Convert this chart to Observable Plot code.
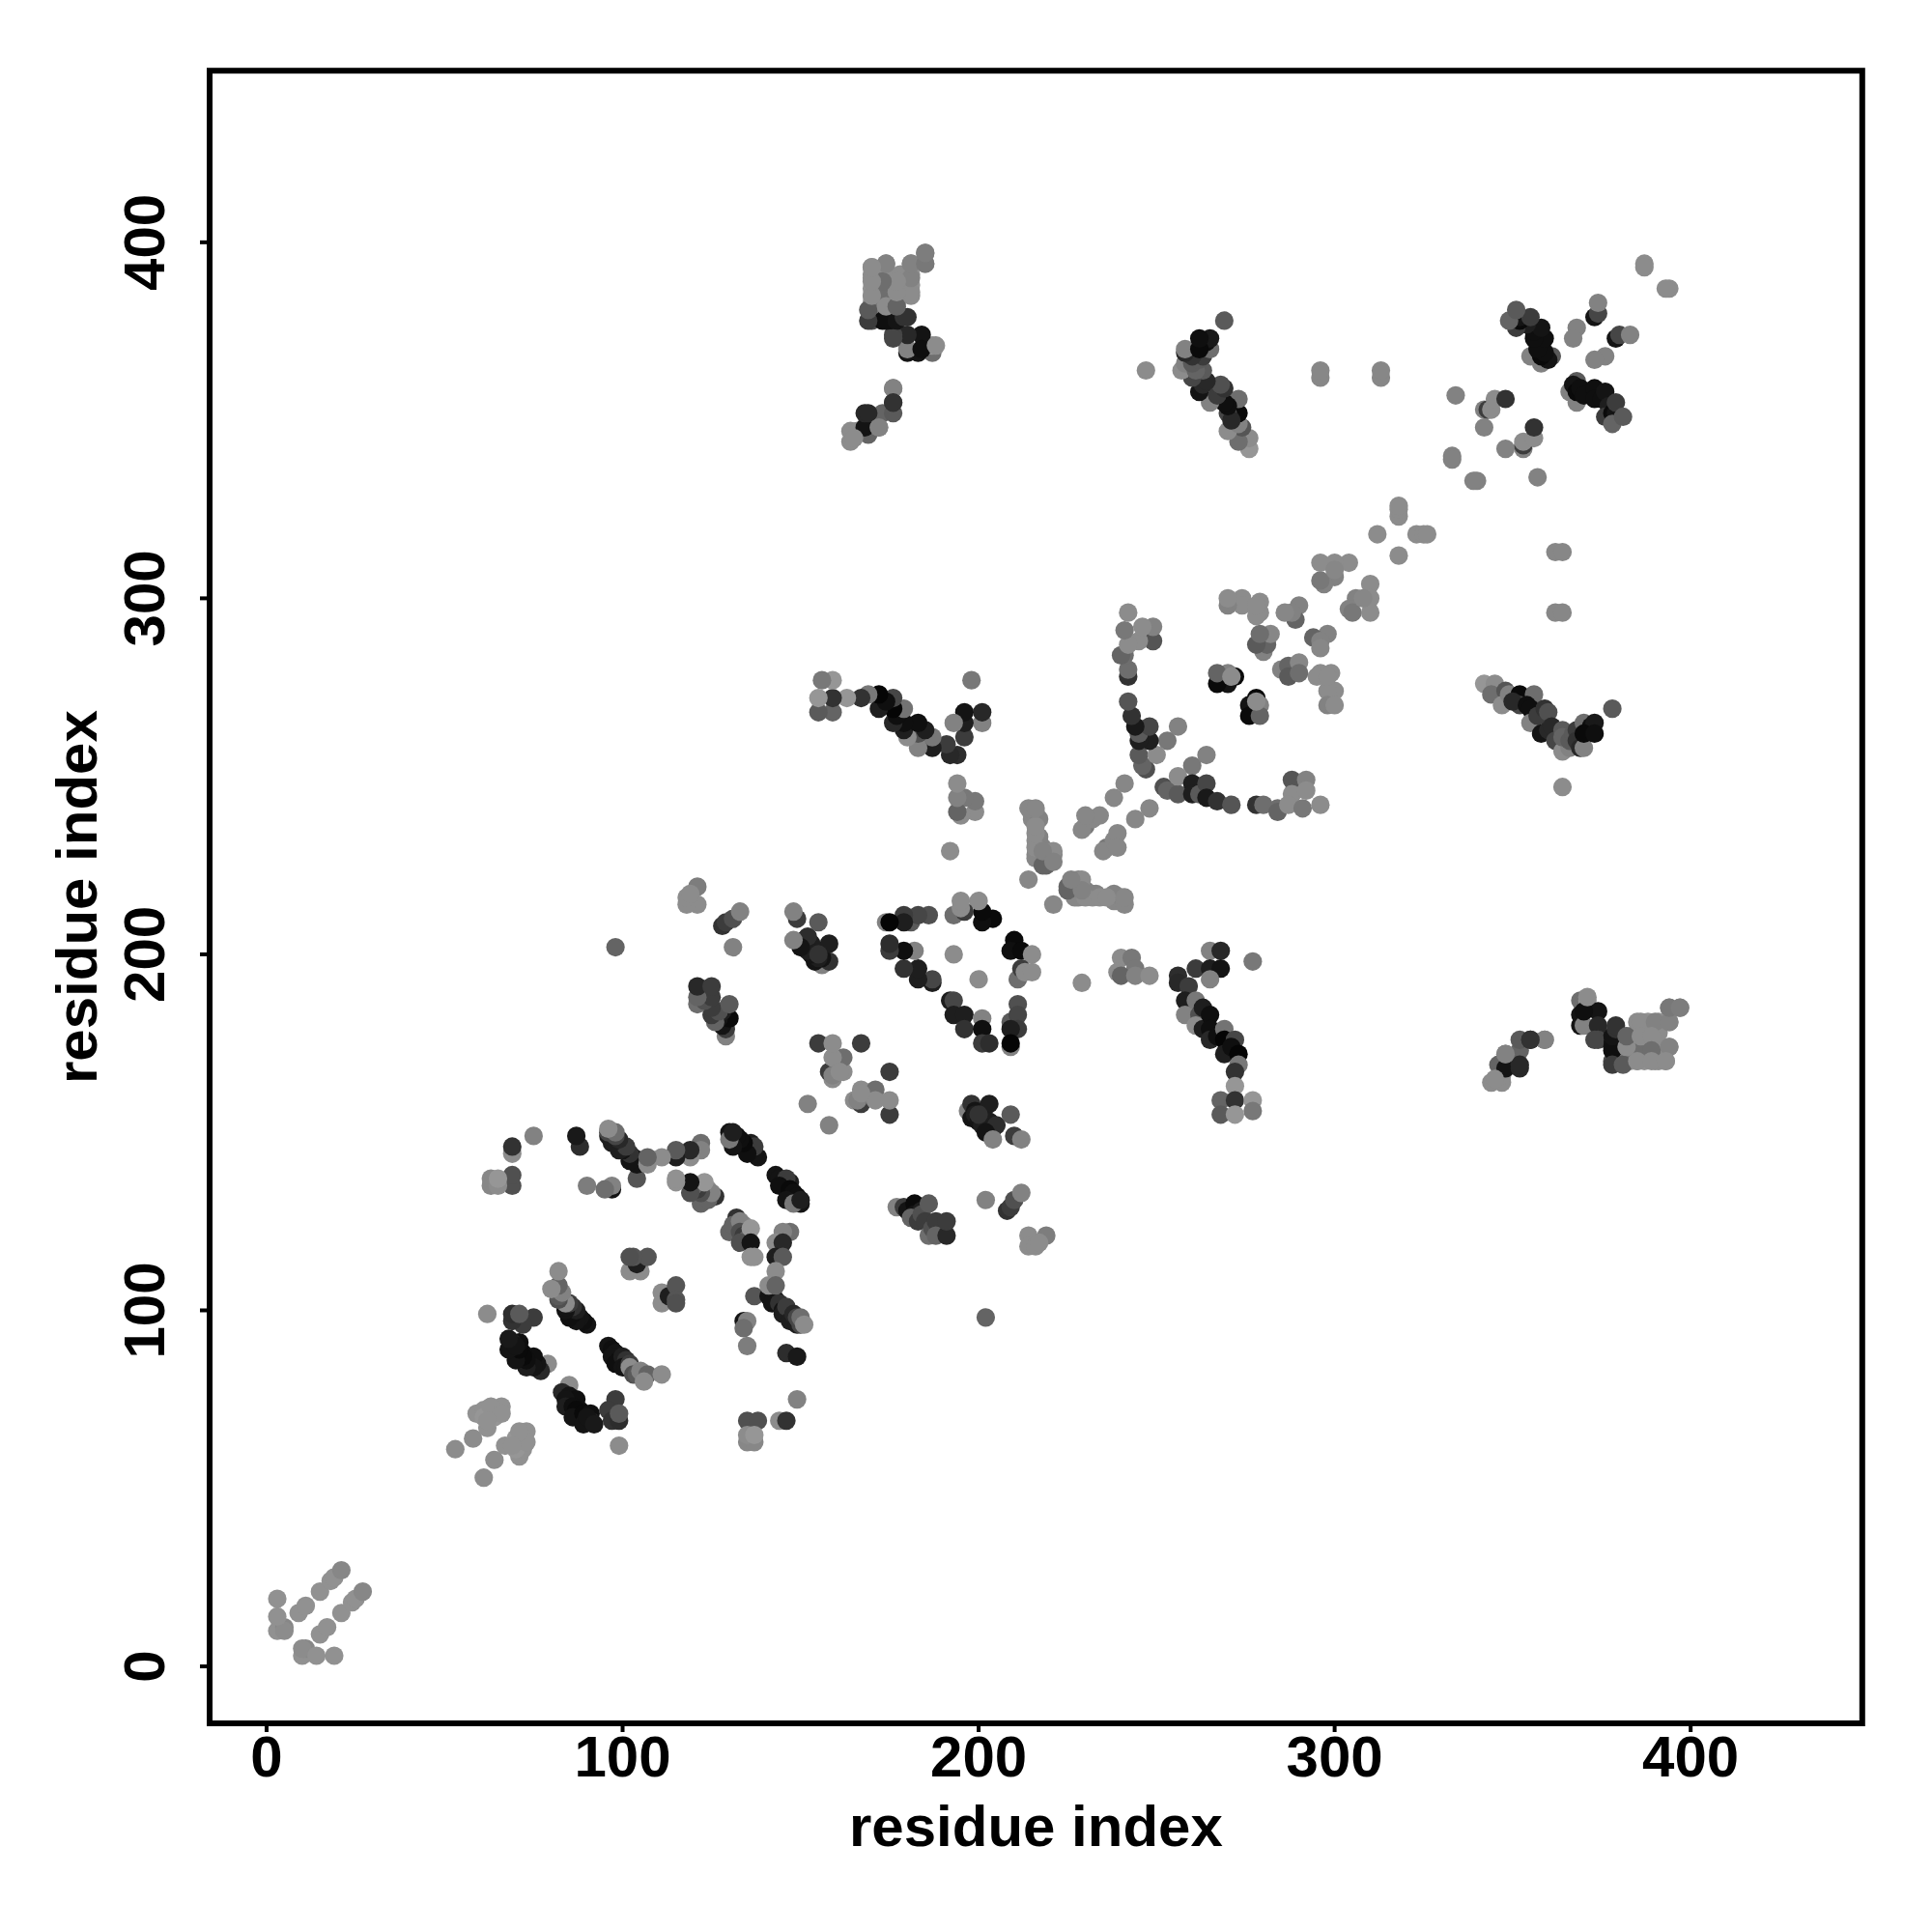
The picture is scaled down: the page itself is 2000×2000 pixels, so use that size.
<!DOCTYPE html>
<html><head><meta charset="utf-8">
<script src="https://cdn.jsdelivr.net/npm/d3@7"></script>
<script src="https://cdn.jsdelivr.net/npm/@observablehq/plot@0.6"></script>
<style>html,body{margin:0;padding:0;background:#fff}svg{display:block}</style>
</head><body><div id="chart"></div>
<script>
// Each entry: [residue i, residue j, gray level]. The map is symmetric; the lower triangle is listed.
const tickValues = [0, 100, 200, 300, 400];
const axisTitle = "residue index";
const nTerminus = [[10,3,145],[11,5,135],[10,5,140],[14,3,145],[19,3,145],[15,9,145],[17,11,145],[21,15,145],[24,18,145],[25,19,145],[27,21,135]];
const cluster60 = [[61,53,140],[64,58,140],[67,62,145],[70,64,150],[71,63,150],[71,59,145],[72,61,145],[70,61,150],[73,66,145],[73,63,145],[71,66,145],[69,62,145]];
const strandA = [[85,79,140],[83,77,40],[85,76,20],[87,75,15],[84,75,20],[84,73,30],[86,73,15],[88,72,15],[87,72,10],[86,70,20],[89,71,10],[91,71,15],[91,69,30],[89,68,20],[90,70,20],[92,68,25]];
const strandB = [[96,90,20],[97,89,15],[98,88,20],[97,87,20],[99,86,15],[98,85,15],[100,87,30],[101,86,50],[100,84,20],[101,84,20],[102,85,60],[102,84,140],[103,82,80],[104,82,90],[105,83,130],[107,82,100],[106,80,140],[111,82,140]];
const patchC = [[98,75,60],[96,72,60],[97,69,50],[99,69,45],[99,71,90],[99,62,140],[202,98,100]];
const patchD = [[111,105,140],[111,102,140],[113,104,30],[115,107,85],[115,103,85],[115,102,80]];
const columnE = [[134,97,20],[135,97,130],[134,95,110],[135,90,125],[146,88,45],[149,87,25],[149,75,130],[144,69,140],[146,69,50],[135,69,80],[138,69,80],[135,63,135],[137,63,135],[135,65,140],[137,65,150]];
const strandF = [[137,104,85],[141,104,20],[143,103,20],[142,102,20],[144,102,50],[145,100,20],[145,99,30],[146,101,60],[147,97,30],[148,99,40],[149,96,30],[149,98,70],[150,96,70],[150,98,110],[151,96,140]];
const columnG = [[147,122,110],[145,122,130],[143,119,140],[145,119,40],[143,115,30],[145,115,90],[143,111,140],[141,107,140],[143,107,100]];
const patchH = [[130,122,100],[132,126,50],[131,124,100],[134,124,140],[133,125,130],[133,122,80],[134,121,60],[135,120,100],[136,123,150],[133,119,80],[136,119,20],[136,115,145],[137,115,145]];
const strandI = [[143,138,20],[144,137,20],[145,136,20],[147,136,30],[146,137,60],[144,135,15],[147,134,10],[148,133,15],[149,132,15],[146,131,20],[150,130,20],[148,130,120],[150,131,30]];
const patchJ = [[158,152,130],[165,159,140],[167,162,140],[167,158,60],[171,162,110],[171,159,140],[175,155,60],[175,159,140],[175,167,60],[166,159,130],[167,161,140]];
const patchK = [[177,129,130],[179,129,60],[180,128,20],[182,130,10],[182,127,20],[184,128,30],[181,126,100],[183,125,60],[184,127,80],[186,130,90],[185,125,60],[186,121,110],[187,123,80],[189,123,50],[188,125,60],[188,121,100],[191,121,40],[191,125,60]];
const patchL = [[202,131,130],[208,128,50],[209,129,60],[210,131,80],[212,133,130],[214,121,140],[219,121,125],[214,118,140],[216,118,140],[217,119,140]];
const patchM = [[197,156,130],[198,158,50],[198,154,20],[199,156,20],[199,155,30],[200,153,20],[203,158,30],[203,153,30],[201,152,30],[200,155,50],[204,151,30],[205,152,45],[202,150,20],[204,148,130],[209,155,90],[210,149,60],[212,148,130]];
const triangleN = [[192,187,30],[193,187,70],[193,183,30],[196,183,30],[196,179,50],[201,182,130],[201,179,15],[201,175,60],[203,175,45],[200,193,140],[211,186,80],[209,181,90],[211,183,70],[209,174,130],[211,179,60],[209,179,30],[209,175,5]];
const triangleO = [[210,204,10],[209,201,15],[212,201,10],[215,200,140],[211,193,110],[212,196,60],[213,195,140],[215,195,140]];
const diagP = [[221,214,135],[225,219,100],[227,219,110],[228,221,130],[228,216,135],[232,216,140],[238,216,135],[239,215,140],[240,215,135],[240,216,140],[236,230,120],[235,229,135],[238,232,135],[239,234,135],[239,230,135],[244,238,135],[248,241,135],[238,215,135],[238,217,130],[232,217,135],[233,217,130],[230,218,130],[227,216,135],[225,218,100],[229,221,140],[230,216,140],[234,216,140],[236,216,140],[241,214,135],[241,216,135],[229,218,130],[226,221,130]];
const patchQ = [[229,192,140],[240,199,140],[243,199,120],[244,196,120],[239,195,140],[240,194,100],[244,194,130],[248,194,140]];
const strandR = [[256,194,45],[256,192,40],[259,191,60],[261,196,60],[265,201,130],[268,201,40],[265,196,30],[268,196,20],[265,193,130],[277,198,120],[258,187,30],[258,183,130],[261,187,120],[262,183,80],[261,180,140],[263,185,30],[263,179,30],[265,183,15],[265,179,15],[265,176,40],[267,177,15],[269,179,115],[269,176,5],[272,176,70],[269,172,30],[271,174,15],[273,172,5],[273,169,120],[272,167,50],[272,163,150],[268,159,100],[272,159,50],[277,159,150],[277,156,120],[268,155,90],[272,155,150]];
const patchS = [[264,256,130],[260,253,120],[252,247,80],[253,246,100],[256,245,90],[256,250,140],[260,248,30],[260,245,30],[262,245,90],[264,248,70],[264,244,25],[267,243,50],[271,242,85]];
const patchT = [[278,242,50],[280,242,110],[284,241,110],[284,240,100],[288,249,85],[292,249,130],[288,245,140],[292,246,140],[287,242,140],[291,241,120],[296,242,140]];
const patchU = [[276,270,20],[278,272,10],[279,270,130],[276,267,10],[279,267,100],[278,271,140],[285,280,130],[287,281,100],[287,278,90],[290,282,135],[290,279,110],[296,279,140],[299,279,140],[300,274,140],[298,274,140],[298,270,130],[300,270,140],[295,278,140],[298,278,140]];
const patchV = [[298,290,130],[294,289,100],[296,288,130],[296,286,135],[306,300,130],[304,297,130],[305,296,120],[310,304,140],[310,300,140],[310,296,140],[308,300,135]];
const diagW = [[318,312,140],[323,318,140],[325,318,140],[326,318,140],[340,333,130],[339,333,130],[348,342,130],[353,342,130],[353,343,60],[353,344,140],[356,345,140],[356,348,50],[357,334,130]];
const farX = [[362,296,135],[364,296,135],[362,313,135],[364,313,135]];
const strandY = [[342,276,150],[345,276,140],[344,273,110],[348,274,85],[347,270,140],[349,273,130],[352,273,10],[352,270,70],[356,273,110],[350,271,40],[354,270,15],[355,269,15],[355,265,130],[357,267,60],[359,269,50],[360,268,80],[358,262,20],[360,263,40],[361,264,40],[362,260,70],[364,257,140],[366,258,130],[364,263,90],[364,261,100],[366,260,90],[367,262,90],[368,263,60],[368,260,50],[369,258,40],[370,258,130],[370,265,110],[372,264,15],[373,265,25],[370,262,10],[373,262,15],[378,269,90],[364,247,140]];
const strandZ = [[344,164,140],[347,164,140],[347,166,140],[346,169,100],[348,168,20],[348,172,110],[352,168,40],[352,173,100],[352,176,90],[355,176,50],[359,176,125],[345,165,140]];
const blockLight = [[383,170,145],[385,170,145],[387,170,145],[390,170,145],[393,170,145],[392,174,145],[394,174,145],[390,174,130],[385,177,145],[387,177,140],[390,177,145],[383,177,140],[385,181,140],[388,181,145],[391,181,145],[394,181,145],[394,185,145],[397,185,140],[384,177,140],[387,178,135],[391,178,140],[392,173,140],[391,170,140],[384,174,130],[387,174,110],[383,174,120],[385,174,110],[381,174,60],[381,170,120],[378,170,80],[381,177,130]];
const blockAA = [[369,187,110],[371,187,150],[369,183,20],[369,180,20],[370,180,130],[374,184,20],[374,180,40],[374,176,70],[378,176,20],[378,173,15],[378,174,15],[378,177,20],[379,179,50],[373,176,70],[370,184,15],[371,188,140],[378,169,60],[379,180,50],[381,169,90],[382,174,140],[382,177,100],[386,181,140],[390,181,130],[394,181,130],[394,185,120],[397,185,125],[386,177,140],[389,177,140],[389,173,110],[394,174,130],[385,170,140],[389,170,140],[393,170,140],[359,176,130],[355,176,50],[352,169,40],[348,172,130]];
const knotAB = [[366,358,130],[368,361,90],[367,360,20],[368,355,130],[368,358,10],[369,359,15],[370,357,15],[373,359,15],[373,356,15],[375,356,15],[376,358,20],[377,354,30],[376,351,60],[378,352,10],[379,352,20],[379,355,60],[378,349,100],[381,351,90],[376,368,130],[373,367,130],[379,373,20],[380,374,70],[383,374,130],[394,387,140],[393,387,140]];

const groups = [nTerminus, cluster60, strandA, strandB, patchC, patchD, columnE, strandF, columnG, patchH, strandI, patchJ, patchK, patchL, patchM, triangleN, triangleO, diagP, patchQ, strandR, patchS, patchT, patchU, patchV, diagW, farX, strandY, strandZ, blockLight, blockAA, knotAB];
const contacts = groups.flat().flatMap(([i, j, g]) => [{x: i, y: j, g}, {x: j, y: i, g}]);

const font = {fontFamily: "Liberation Sans", fontWeight: "bold", fontSize: 60};
const chart = Plot.plot({
  width: 2000, height: 2000,
  marginLeft: 216.5, marginRight: 72.7, marginTop: 72.7, marginBottom: 216.5,
  x: {domain: [-16, 448.2]},
  y: {domain: [-16, 448.2]},
  style: {background: "#fff", color: "#000"},
  marks: [
    Plot.dot(contacts, {x: "x", y: "y", r: 9.6, fill: d => `rgb(${d.g},${d.g},${d.g})`, stroke: "none"}),
    Plot.frame({stroke: "#000", strokeWidth: 6, fill: "none"}),
    Plot.axisX({ticks: tickValues, tickFormat: d => String(d), tickSize: 9.5, tickPadding: 3, strokeWidth: 4, label: axisTitle, labelAnchor: "center", labelArrow: "none", labelOffset: 127, ...font}),
    Plot.axisY({ticks: tickValues, tickFormat: d => String(d), tickSize: 9.5, tickPadding: 38, strokeWidth: 4, tickRotate: -90, label: axisTitle, labelAnchor: "center", labelArrow: "none", labelOffset: 160, ...font})
  ]
});
document.getElementById("chart").appendChild(chart);
</script></body></html>
